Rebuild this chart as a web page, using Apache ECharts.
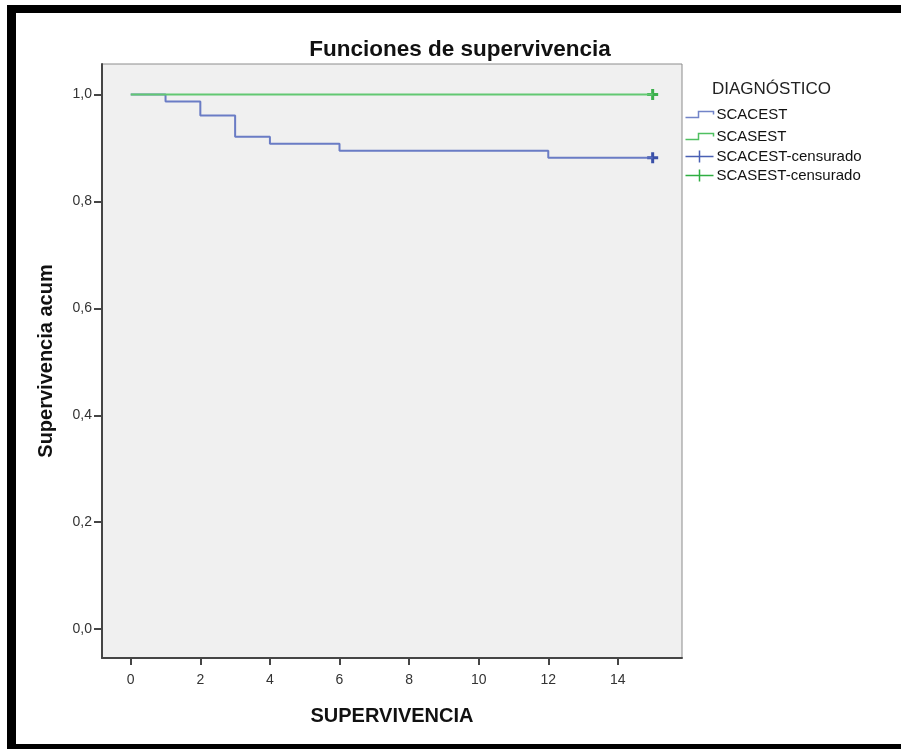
<!DOCTYPE html>
<html><head><meta charset="utf-8">
<script src="https://cdn.jsdelivr.net/npm/echarts@6/dist/echarts.min.js"></script>
<style>html,body{margin:0;padding:0;background:#fff}#c{width:901px;height:749px}</style>
</head><body><div id="c"></div>
<script>
// ---- data ----
const scacestTimes = [0, 1, 2, 3, 4, 6, 12, 15];
const scacestSurv  = [1, 0.9868, 0.9605, 0.9211, 0.9079, 0.8947, 0.8816, 0.8816];
const scasestTimes = [0, 15];
const scasestSurv  = [1, 1];
const scacestCensorTimes = [15];
const scacestCensorSurv  = [0.8816];
const scasestCensorTimes = [15];
const scasestCensorSurv  = [1];
const xTicks = [0, 2, 4, 6, 8, 10, 12, 14];
const yTicks = [0, 0.2, 0.4, 0.6, 0.8, 1.0];
const seriesNames = ['SCACEST', 'SCASEST', 'SCACEST-censurado', 'SCASEST-censurado'];

const zip = (a, b) => a.map((v, i) => [v, b[i]]);
const FONT = 'Liberation Sans, Arial, sans-serif';
const BLUE_LINE = '#5b6fc0', GREEN_LINE = '#62c872';
const BLUE_MARK = '#3a50a8', GREEN_MARK = '#3cb04c';
const CROSS = 'path://M4,0H7V4H11V7H7V11H4V7H0V4H4Z';
const STEP = 'path://M0,6L13,6L13,0L28,0L28,3';
const LEGCROSS = 'path://M0,6L28,6M14,0L14,12';

const chart = echarts.init(document.getElementById('c'), null, {renderer: 'canvas'});
chart.setOption({
  animation: false,
  backgroundColor: '#ffffff',
  title: [
    {text: 'Funciones de supervivencia', left: 455, top: 33, textAlign: 'center',
     textStyle: {fontFamily: FONT, fontSize: 22.5, fontWeight: 'bold', color: '#111'}},
    {text: 'DIAGNÓSTICO', left: 707, top: 76,
     textStyle: {fontFamily: FONT, fontSize: 17, fontWeight: 'normal', color: '#222'}}
  ],
  graphic: [
    {type: 'rect', shape: {x: 7, y: 5, width: 894, height: 8}, style: {fill: '#000'}, silent: true},
    {type: 'rect', shape: {x: 7, y: 5, width: 9, height: 744}, style: {fill: '#000'}, silent: true},
    {type: 'rect', shape: {x: 7, y: 744, width: 894, height: 5}, style: {fill: '#000'}, silent: true}
  ],
  grid: {left: 102, top: 64, right: 219, bottom: 91, show: true,
         backgroundColor: '#f0f0f0', borderColor: '#8c8c8c', borderWidth: 1},
  legend: [
    {orient: 'vertical', left: 683, top: 107, padding: 0, itemWidth: 28, itemHeight: 6, itemGap: 7,
     symbolKeepAspect: false,
     data: [
       {name: seriesNames[0], icon: STEP, itemStyle: {color: 'none', borderColor: '#7284c8', borderWidth: 1.5}},
       {name: seriesNames[1], icon: STEP, itemStyle: {color: 'none', borderColor: '#4fc061', borderWidth: 1.5}}
     ],
     textStyle: {fontFamily: FONT, fontSize: 15, color: '#111', padding: [0, 0, 0, -2]}},
    {orient: 'vertical', left: 683, top: 148, padding: 0, itemWidth: 28, itemHeight: 12, itemGap: 2,
     symbolKeepAspect: false,
     data: [
       {name: seriesNames[2], icon: LEGCROSS, itemStyle: {color: 'none', borderColor: '#4a60b4', borderWidth: 1.5}},
       {name: seriesNames[3], icon: LEGCROSS, itemStyle: {color: 'none', borderColor: '#2fae42', borderWidth: 1.5}}
     ],
     textStyle: {fontFamily: FONT, fontSize: 15, color: '#111', padding: [0, 0, 0, -2]}}
  ],
  xAxis: {
    type: 'value', min: -0.826, max: 15.843,
    name: 'SUPERVIVENCIA', nameLocation: 'middle', nameGap: 48,
    nameTextStyle: {fontFamily: FONT, fontSize: 20, fontWeight: 'bold', color: '#111'},
    axisLine: {show: true, onZero: false, lineStyle: {color: '#454545', width: 2}},
    axisTick: {show: true, customValues: xTicks, length: 7, lineStyle: {color: '#454545', width: 2}},
    axisLabel: {customValues: xTicks, margin: 15, fontFamily: FONT, fontSize: 14, color: '#333'},
    splitLine: {show: false}
  },
  yAxis: {
    type: 'value', min: -0.054, max: 1.057,
    name: 'Supervivencia acum', nameLocation: 'middle', nameGap: 46,
    nameTextStyle: {fontFamily: FONT, fontSize: 20, fontWeight: 'bold', color: '#111'},
    axisLine: {show: true, onZero: false, lineStyle: {color: '#454545', width: 2}},
    axisTick: {show: true, customValues: yTicks, length: 8, lineStyle: {color: '#454545', width: 2}},
    axisLabel: {customValues: yTicks, margin: 10, fontFamily: FONT, fontSize: 14, color: '#333',
                formatter: v => v.toFixed(1).replace('.', ',')},
    splitLine: {show: false}
  },
  series: [
    {name: seriesNames[0], type: 'line', step: 'end', symbol: 'none',
     data: zip(scacestTimes, scacestSurv),
     lineStyle: {color: BLUE_LINE, width: 2, opacity: 0.9}, itemStyle: {color: BLUE_LINE}},
    {name: seriesNames[1], type: 'line', step: 'end', symbol: 'none',
     data: zip(scasestTimes, scasestSurv),
     lineStyle: {color: GREEN_LINE, width: 2}, itemStyle: {color: GREEN_LINE}},
    {name: seriesNames[2], type: 'scatter', symbol: CROSS, symbolSize: 11,
     data: zip(scacestCensorTimes, scacestCensorSurv), itemStyle: {color: BLUE_MARK, opacity: 1}},
    {name: seriesNames[3], type: 'scatter', symbol: CROSS, symbolSize: 11,
     data: zip(scasestCensorTimes, scasestCensorSurv), itemStyle: {color: GREEN_MARK, opacity: 1}}
  ]
});
</script></body></html>
